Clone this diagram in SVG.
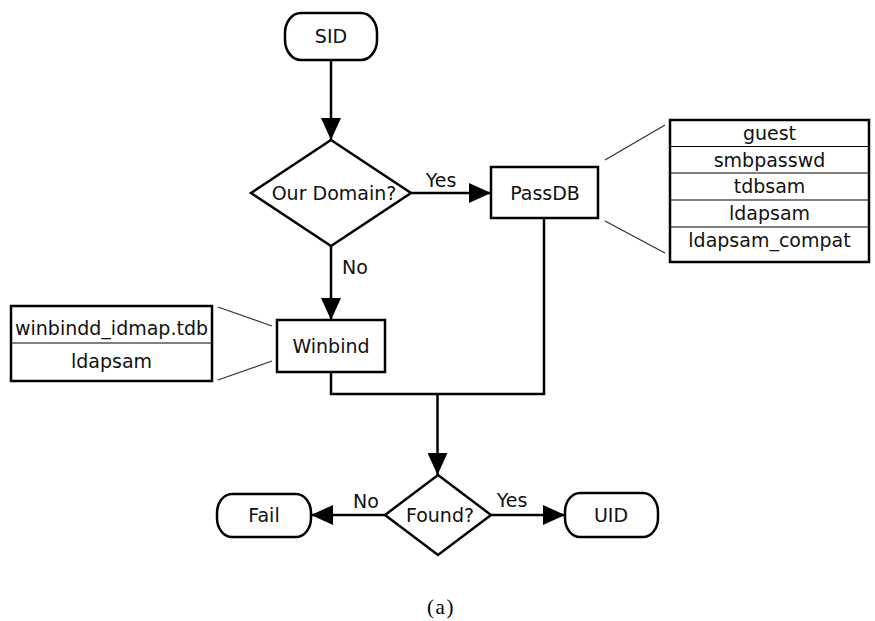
<svg xmlns="http://www.w3.org/2000/svg" width="875" height="621" viewBox="0 0 875 621">
<style>
.sh{fill:#fff;stroke:#000;stroke-width:2.5}
.tb{fill:#fff;stroke:#000;stroke-width:2.5}
.dv{stroke:#000;stroke-width:1.2}
.t{font-family:"DejaVu Sans",sans-serif;font-size:19px;fill:#111;text-anchor:middle}
.c{fill:none;stroke:#000;stroke-width:2.5}
.ln{stroke:#333;stroke-width:1.3}
.cap{font-family:"Liberation Serif",serif;font-size:21px;fill:#000;text-anchor:middle;letter-spacing:1.5px}
</style>
<defs>
<marker id="ah" markerUnits="userSpaceOnUse" markerWidth="22" markerHeight="20" refX="22" refY="10" orient="auto">
<path d="M0,0 L22,10 L0,20 z" fill="#000"/>
</marker>
</defs>
<rect width="875" height="621" fill="#fff"/>
<g id="connectors">
<line class="c" x1="331" y1="60" x2="331" y2="140" marker-end="url(#ah)"/>
<line class="c" x1="411" y1="193" x2="491" y2="193" marker-end="url(#ah)"/>
<line class="c" x1="331" y1="246" x2="331" y2="320" marker-end="url(#ah)"/>
<polyline class="c" points="331,372 331,394 544,394 544,218"/>
<line class="c" x1="437.5" y1="394" x2="437.5" y2="475" marker-end="url(#ah)"/>
<line class="c" x1="385" y1="515" x2="311" y2="515" marker-end="url(#ah)"/>
<line class="c" x1="491" y1="515" x2="565" y2="515" marker-end="url(#ah)"/>
<line class="ln" x1="605" y1="160" x2="665" y2="125"/>
<line class="ln" x1="605" y1="221" x2="665" y2="253"/>
<line class="ln" x1="218" y1="307" x2="272" y2="326"/>
<line class="ln" x1="218" y1="380" x2="272" y2="361"/>
<text class="t" x="441" y="187">Yes</text>
<text class="t" x="355" y="274">No</text>
<text class="t" x="366" y="508">No</text>
<text class="t" x="512" y="507">Yes</text>
</g>
<g id="sid">
<rect class="sh" x="285" y="13" width="92" height="47" rx="16" ry="20"/>
<text class="t" x="331" y="43">SID</text>
</g>
<g id="ourdomain">
<polygon class="sh" points="331,140 411,193 331,246 251,193"/>
<text class="t" x="334" y="200">Our Domain?</text>
</g>
<g id="passdb">
<rect class="sh" x="491" y="167" width="107" height="51"/>
<text class="t" x="545" y="200">PassDB</text>
</g>
<g id="passdb-backends">
<rect class="tb" x="670" y="120" width="199" height="142"/>
<line class="dv" x1="670" y1="146.5" x2="869" y2="146.5"/>
<line class="dv" x1="670" y1="173" x2="869" y2="173"/>
<line class="dv" x1="670" y1="200" x2="869" y2="200"/>
<line class="dv" x1="670" y1="227" x2="869" y2="227"/>
<text class="t" x="769.5" y="140">guest</text>
<text class="t" x="769.5" y="167">smbpasswd</text>
<text class="t" x="769.5" y="193">tdbsam</text>
<text class="t" x="769.5" y="220">ldapsam</text>
<text class="t" x="769.5" y="247">ldapsam_compat</text>
</g>
<g id="winbind">
<rect class="sh" x="277" y="320" width="108" height="52"/>
<text class="t" x="331" y="353">Winbind</text>
</g>
<g id="winbind-backends">
<rect class="tb" x="11" y="306" width="201" height="75"/>
<line class="dv" x1="11" y1="343" x2="212" y2="343"/>
<text class="t" x="111.5" y="335">winbindd_idmap.tdb</text>
<text class="t" x="111.5" y="368">ldapsam</text>
</g>
<g id="found">
<polygon class="sh" points="438,475 491,515 438,555 385,515"/>
<text class="t" x="440" y="522">Found?</text>
</g>
<g id="fail">
<rect class="sh" x="217" y="494" width="94" height="43" rx="15" ry="19"/>
<text class="t" x="264" y="522">Fail</text>
</g>
<g id="uid">
<rect class="sh" x="565" y="493" width="93" height="44" rx="15" ry="19"/>
<text class="t" x="611" y="522">UID</text>
</g>
<text class="cap" x="441" y="614">(a)</text>
</svg>
